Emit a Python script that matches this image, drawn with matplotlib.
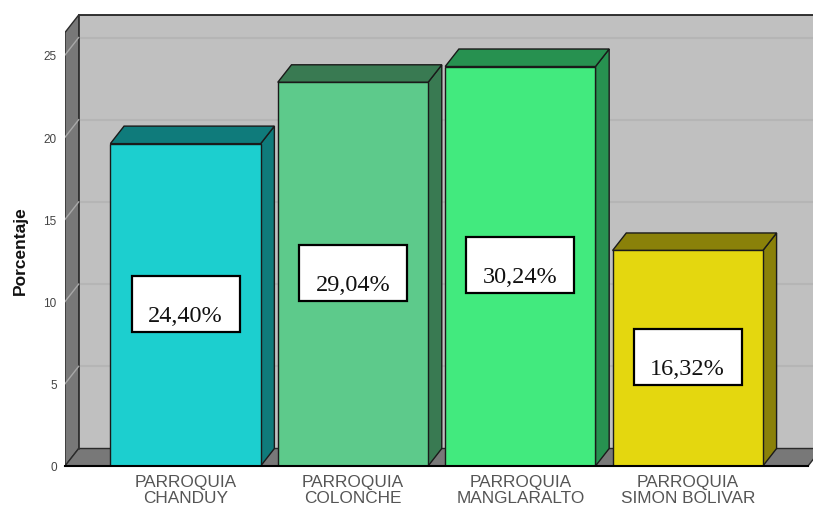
import matplotlib
matplotlib.use('Agg')
import matplotlib.pyplot as plt
from matplotlib.patches import Polygon, Rectangle

# ---- data ----
categories = ['PARROQUIA\nCHANDUY', 'PARROQUIA\nCOLONCHE',
              'PARROQUIA\nMANGLARALTO', 'PARROQUIA\nSIMON BOLIVAR']
values = [19.61, 23.34, 24.30, 13.11]
pct_labels = ['24,40%', '29,04%', '30,24%', '16,32%']
yticks = [0, 5, 10, 15, 20, 25]
ylabel = 'Porcentaje'

# ---- style ----
front_colors = ['#1ccfcf', '#5dca8b', '#42ea7e', '#e4d70f']
shade_colors = ['#0f7b7b', '#397a52', '#279150', '#8a8109']
wall_color = '#c0c0c0'
side_color = '#787878'
edge = '#1a1a1a'

W, H, DPI = 813, 510, 100
fig = plt.figure(figsize=(W / DPI, H / DPI), dpi=DPI)
fig.patch.set_facecolor('white')
ax = fig.add_axes([65 / W, 43 / H, 748 / W, 467 / H])

px_x = 167.4   # pixels per category unit
px_y = 16.44   # pixels per percent unit
x0 = -0.72
x1 = x0 + 748 / px_x
ax.set_xlim(x0, x1)
ax.set_ylim(0, 467 / px_y)
dx = 13.7 / px_x
dy = 17.5 / px_y
wall_top = 26.37
floor_right = x0 + 743 / px_x
bw = 150.3 / px_x

# back wall
ax.add_patch(Rectangle((x0 + dx, dy), (x1 + 1) - (x0 + dx), wall_top,
                       facecolor=wall_color, edgecolor='none', zorder=1))
ax.plot([x0 + dx, x1 + 1], [wall_top + dy] * 2, color='#222222', lw=1.3, zorder=2)
ax.plot([x0 + dx, x0 + dx], [dy, wall_top + dy], color='#333333', lw=1.2, zorder=4)

# gridlines
for t in yticks[1:]:
    ax.plot([x0 + dx, x1 + 1], [t + dy] * 2, color='#b5b5b5', lw=1.5, zorder=2)

# side wall
ax.add_patch(Polygon([(x0, 0), (x0, wall_top), (x0 + dx, wall_top + dy), (x0 + dx, dy)],
                     closed=True, facecolor=side_color, edgecolor='#2a2a2a', lw=1.0, zorder=3))
for t in yticks[1:]:
    ax.plot([x0, x0 + dx], [t, t + dy], color='#a8a8a8', lw=1.0, zorder=4)

# floor
ax.add_patch(Polygon([(x0, 0), (floor_right, 0), (floor_right + dx, dy), (x0 + dx, dy)],
                     closed=True, facecolor=side_color, edgecolor='#2a2a2a', lw=1.0, zorder=3))

# bars
for i, v in enumerate(values):
    xl = i - bw / 2
    xr = i + bw / 2
    ax.add_patch(Polygon([(xr, 0), (xr, v), (xr + dx, v + dy), (xr + dx, dy)], closed=True,
                         facecolor=shade_colors[i], edgecolor=edge, lw=1.0, zorder=5))
    ax.add_patch(Polygon([(xl, v), (xr, v), (xr + dx, v + dy), (xl + dx, v + dy)], closed=True,
                         facecolor=shade_colors[i], edgecolor=edge, lw=1.0, zorder=5))
    ax.add_patch(Rectangle((xl, 0), bw, v, facecolor=front_colors[i],
                           edgecolor=edge, lw=1.0, zorder=6))
    # label box
    yc = v / 2 + 0.05
    bwid = 108 / px_x
    bhei = 56 / px_y
    ax.add_patch(Rectangle((i - bwid / 2, yc - bhei / 2), bwid, bhei,
                           facecolor='white', edgecolor='black', lw=1.6, zorder=7))
    ax.text(i, yc - 17 / px_y, pct_labels[i], ha='center', va='baseline',
            fontsize=17.5, family='Liberation Serif', color='#111111', zorder=8)

# front baseline
ax.plot([x0, floor_right], [0, 0], color='black', lw=1.5, zorder=9, clip_on=False)

# axes
for s in ax.spines.values():
    s.set_visible(False)
ax.set_yticks(yticks)
ax.set_yticklabels([str(t) for t in yticks], fontsize=8.5, color='#444444',
                   family='Liberation Sans')
ax.set_xticks(range(len(categories)))
ax.set_xticklabels(categories, fontsize=12.4, color='#555555',
                   family='Liberation Sans', linespacing=1.05)
ax.tick_params(axis='y', length=0, pad=6)
ax.tick_params(axis='x', length=0, pad=6)
ax.set_ylabel(ylabel, fontsize=12.5, fontweight='bold', family='Liberation Sans',
              color='#111111', va='center')
ax.yaxis.set_label_coords(-(65 - 20) / 748, (467 - 251) / 467)
ax.set_facecolor('white')

fig.savefig('out.png', dpi=DPI)
